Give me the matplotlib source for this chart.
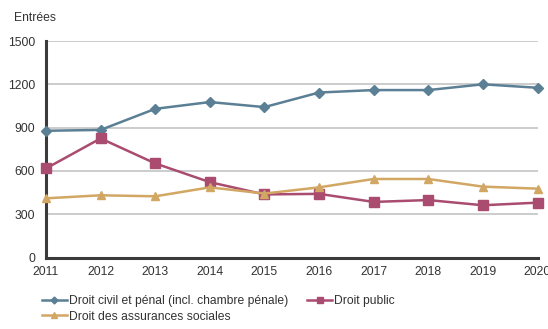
import matplotlib
matplotlib.use("Agg")
import matplotlib.pyplot as plt

plt.rcParams['font.family'] = ['Liberation Sans', 'DejaVu Sans']

years = [2011, 2012, 2013, 2014, 2015, 2016, 2017, 2018, 2019, 2020]
civil_penal = [878, 884, 1030, 1077, 1042, 1143, 1160, 1160, 1200, 1176]
droit_public = [617, 825, 652, 522, 437, 441, 385, 398, 362, 380]
assurances = [410, 431, 424, 486, 443, 486, 544, 544, 491, 477]
yticks = [0, 300, 600, 900, 1200, 1500]

labels = ["Droit civil et pénal (incl. chambre pénale)", "Droit public",
          "Droit des assurances sociales"]
c_blue = "#5b7f94"
c_pink = "#a94c70"
c_gold = "#d2a764"

fig = plt.figure(figsize=(5.48, 3.29), dpi=100)
ax = fig.add_axes([46/548, 1 - 257.5/329, (537.5-46)/548, (257.5-41)/329])

l1, = ax.plot(years, civil_penal, color=c_blue, lw=1.8, marker='D', ms=5, clip_on=False, zorder=3)
l2, = ax.plot(years, droit_public, color=c_pink, lw=1.8, marker='s', ms=6.5, clip_on=False, zorder=3)
l3, = ax.plot(years, assurances, color=c_gold, lw=1.8, marker='^', ms=6, clip_on=False, zorder=3)

ax.set_xlim(2011, 2020)
ax.set_ylim(0, 1500)
ax.set_yticks(yticks)
ax.set_yticklabels([str(v) for v in yticks])
ax.set_xticks(years)
ax.set_xticklabels([str(y) for y in years])
ax.tick_params(length=0, labelsize=8.7, colors="#333333", pad=6)
ax.tick_params(axis='y', pad=8)
ax.grid(axis='y', color="#c4c4c4", lw=1.2)
ax.set_axisbelow(True)
for s in ['top', 'right']:
    ax.spines[s].set_visible(False)
for s in ['left', 'bottom']:
    ax.spines[s].set_color("#3a3a3a")
    ax.spines[s].set_linewidth(2.2)

fig.text(14/548, 1 - 18/329, "Entrées", fontsize=8.7, color="#333333", va='center', ha='left')

leg = fig.legend([l1, l3, l2], [labels[0], labels[2], labels[1]], ncol=2,
                 loc='upper left', bbox_to_anchor=(42/548, 1 - 295/329),
                 frameon=False, fontsize=8.7, handlelength=2.05, handletextpad=0.2,
                 columnspacing=1.55, labelspacing=0.3, borderaxespad=0, borderpad=0,
                 markerscale=0.7)
for t in leg.get_texts():
    t.set_color("#333333")

fig.savefig("out.png", dpi=100)
